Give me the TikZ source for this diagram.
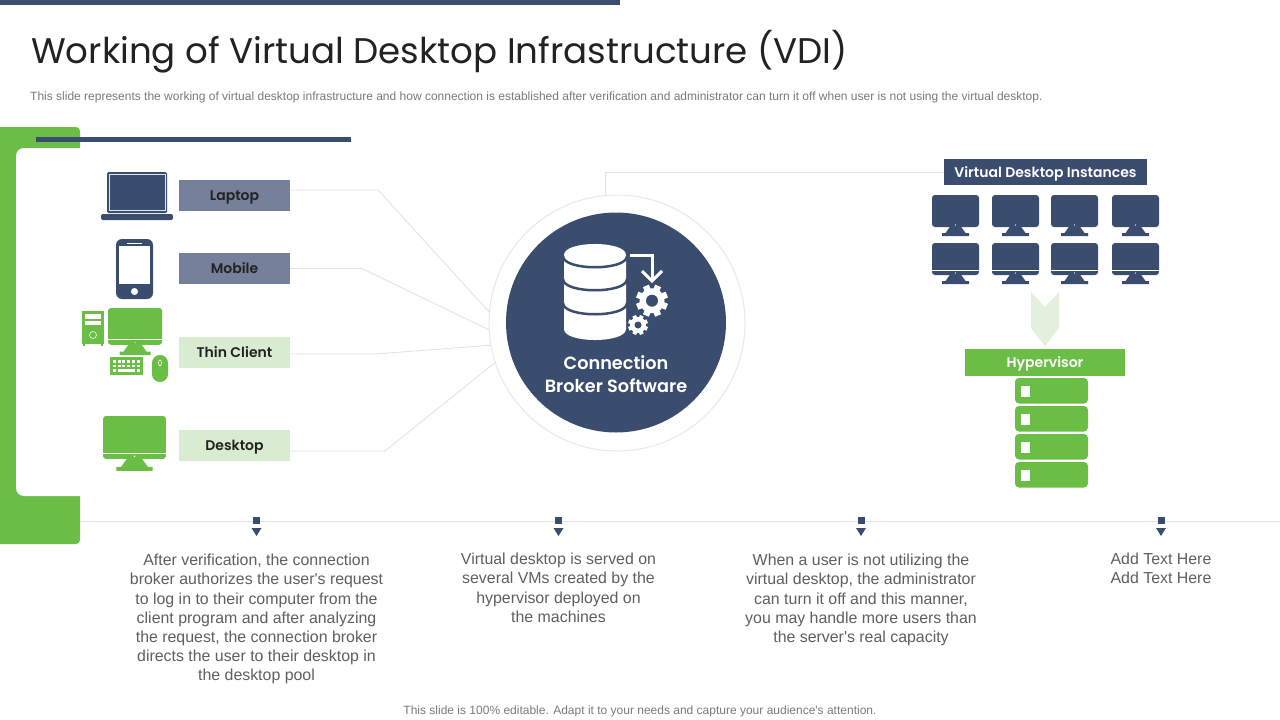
\documentclass[tikz,border=0pt]{standalone}
\usepackage{fontspec}
\setmainfont{Liberation Sans}
\newfontfamily\arial{Liberation Sans}
\newfontfamily\gothic{Poppins}
\newfontfamily\gothicb{Poppins SemiBold}
\definecolor{navy}{HTML}{3B4D6E}
\definecolor{leaf}{HTML}{6ABD45}
\definecolor{pale}{HTML}{D9EBD1}
\definecolor{slate}{HTML}{75809B}
\definecolor{wire}{HTML}{E0E1E4}
\definecolor{ink}{HTML}{222222}
\definecolor{grey}{HTML}{5F5F5F}
\definecolor{fine}{HTML}{7A7A7A}
\tikzset{
  x=1pt,y=-1pt,
  wirep/.style={draw=wire,line width=0.8pt},
  tag/.style={minimum width=111pt,minimum height=31pt,inner sep=0pt,text height=10pt,text depth=0pt,font=\gothicb\fontsize{14}{16}\selectfont,text=ink},
  para/.style={align=center,text=grey,font=\arial\fontsize{15.9}{19.15}\selectfont,inner sep=0pt,anchor=north},
  band/.style={inner sep=0pt,text height=10pt,text depth=0pt,font=\gothicb\fontsize{14}{16}\selectfont,text=white},
}
\newcommand{\mon}[5]{% x,y,scale,colour,line?
  \begin{scope}[shift={(#1,#2)},scale=#3]
    \fill[#4,rounded corners=3pt] (0,0) rectangle (47,32);
    \fill[#4] (18.5,31)--(28.5,31)--(33.5,38)--(37,38)--(37,41)--(10,41)--(10,38)--(13.5,38)--cycle;
    \fill[white] (23.5,30) circle (0.6);
    \ifnum#5=1 \fill[white] (0,27.3) rectangle (47,28.2); \fi
  \end{scope}}
\newcommand{\gear}[6]{% x,y,outer,body,hole,half tooth
  \foreach \a in {22.5,67.5,...,337.5}{
    \fill[white,rotate around={\a:(#1,#2)}] (#1-#6,#2-#3) rectangle (#1+#6,#2);
  }
  \fill[white] (#1,#2) circle (#4);
  \fill[navy] (#1,#2) circle (#5);}
\newcommand{\marker}[1]{
  \fill[navy] (#1-3.5,517) rectangle (#1+3.5,524);
  \fill[navy] (#1-5,528)--(#1+5,528)--(#1,536)--cycle;}
\newcommand{\rack}[1]{
  \fill[leaf,rounded corners=4pt] (1015,#1) rectangle (1088,#1+25.5);
  \fill[white] (1021,#1+7.5) rectangle (1030,#1+19);}
\begin{document}
\begin{tikzpicture}
\useasboundingbox (0,0) rectangle (1280,720);
\fill[white] (0,0) rectangle (1280,720);
\fill[navy] (0,0) rectangle (620,5);
\node[anchor=west,inner sep=0pt,text=ink] (title) at (31,52) {\gothic\fontsize{35.6}{40}\selectfont Working of Virtual Desktop Infrastructure (VDI)};
\node[anchor=west,inner sep=0pt,text=fine] (sub) at (30,97) {\arial\fontsize{12}{14}\selectfont This slide represents the working of virtual desktop infrastructure and how connection is established after verification and administrator can turn it off when user is not using the virtual desktop.};
% bracket
\begin{scope}
\clip (0,0) rectangle (1280,720);
\fill[leaf,rounded corners=4pt] (-10,127) rectangle (80,544);
\end{scope}
\fill[white,rounded corners=8pt] (16,148) rectangle (90,496);
\fill[navy] (36,137) rectangle (351,142);
% rule
\draw[wire,line width=1pt] (80,521) -- (1280,521);
% ring & disc
\node[circle,draw=wire!75,line width=1pt,fill=white,minimum size=256pt,inner sep=0pt] (ring) at (617,323) {};
\node[circle,fill=navy,minimum size=220pt,inner sep=0pt] (disc) at (616,322.5) {};
% labels
\node[tag,fill=slate] (laptop) at (234.5,195) {Laptop};
\node[tag,fill=slate] (mobile) at (234.5,268.5) {Mobile};
\node[tag,fill=pale] (thin) at (234.5,352.5) {Thin Client};
\node[tag,fill=pale] (desk) at (234.5,445.5) {Desktop};
\draw[wirep] (laptop.east) ++(0,-5) -- (378,190) -- (ring.175);
\draw[wirep] (mobile.east) -- (362,268.5) -- (ring.183);
\draw[wirep] (thin.east) ++(0,1.5) -- (375,354) -- (ring.190);
\draw[wirep] (desk.east) ++(0,5.5) -- (385,451) -- (ring.198);
% vdi
\node[band,fill=navy,minimum width=203pt,minimum height=26pt] (vdi) at (1045.5,172) {Virtual Desktop Instances};
\draw[wirep] (ring.95) |- (vdi.west);
\node[band,fill=leaf,minimum width=160pt,minimum height=27pt] (hyper) at (1045,362.5) {Hypervisor};
% laptop icon
\fill[navy,rounded corners=1.5pt] (107,172) rectangle (167,213);
\draw[white!85!navy,line width=0.5pt] (109,174) rectangle (165,210);
\fill[navy,rounded corners=2pt] (101,214) rectangle (173,220);
% mobile icon
\fill[navy,rounded corners=6pt] (116,239) rectangle (153,299);
\fill[white] (119,246) rectangle (150,284);
\fill[white] (127,242.5) rectangle (142,243.8);
\fill[white] (134.5,291.5) circle (3.5);
% thin client
\mon{108}{308}{1.15}{leaf}{1}
\fill[leaf] (82,311) rectangle (104,344);
\fill[leaf] (83,344) rectangle (85,345.5);
\fill[leaf] (101,344) rectangle (103,345.5);
\fill[white] (85,314) rectangle (101,318.5);
\fill[white] (85,320.5) rectangle (101,325);
\draw[white,line width=0.6pt] (93,335) circle (3.5);
\fill[leaf] (110,357) rectangle (143,375);
\foreach \y in {360,364.5}{
  \foreach \i in {0,...,5}{ \fill[white] (113+4.7*\i,\y) rectangle (116+4.7*\i,\y+2.5); }}
\fill[white] (113,369) rectangle (116,371.5);
\fill[white] (118,369) rectangle (135,371.5);
\fill[white] (137,369) rectangle (140,371.5);
\fill[leaf,rounded corners=7.9pt] (152,355) rectangle (168,382);
\draw[white,line width=0.6pt] (160,363) ellipse (1.5 and 3);
% desktop
\mon{103}{416}{1.34}{leaf}{1}
% instances
\foreach \x in {932,992,1051,1112}{
  \mon{\x}{195}{1}{navy}{0}
  \mon{\x}{243}{1}{navy}{1}
}
% chevron
\fill[pale!75] (1031,292)--(1045,307)--(1059,292)--(1059,328)--(1045,346)--(1031,328)--cycle;
% racks
\rack{378}\rack{406}\rack{434}\rack{462}
% broker icon
\fill[white] (564,255) .. controls (564,240.3) and (626,240.3) .. (626,255) -- (626,329) .. controls (626,343.7) and (564,343.7) .. (564,329) -- cycle;
\foreach \c in {256,279,303}{
  \draw[navy,line width=2.5pt] (563,\c) .. controls (563,\c+15) and (627,\c+15) .. (627,\c);
}
\draw[white,line width=3pt] (630,255.7) -- (652,255.7) -- (652,280);
\draw[white,line width=3pt] (642,271) -- (652,281) -- (662,271);
\gear{652}{300.7}{16}{12.5}{6}{3.2}
\gear{638}{325}{10}{8}{3.5}{2}
\node[inner sep=0pt,text=white,align=center,font=\gothicb\fontsize{17.7}{23}\selectfont] (brk) at (616,374) {Connection\\Broker Software};
% text
\marker{256.5}\marker{558.5}\marker{861}\marker{1161}
\node[para] (t1) at (256.5,554) {After verification, the connection\\broker authorizes the user's request\\to log in to their computer from the\\client program and after analyzing\\the request, the connection broker\\directs the user to their desktop in\\the desktop pool};
\node[para] (t2) at (558.5,553) {Virtual desktop is served on\\several VMs created by the\\hypervisor deployed on\\the machines};
\node[para] (t3) at (861,554) {When a user is not utilizing the\\virtual desktop, the administrator\\can turn it off and this manner,\\you may handle more users than\\the server's real capacity};
\node[para] (t4) at (1161,553) {Add Text Here\\Add Text Here};
\node[inner sep=0pt,text=fine] (foot) at (640,711.5) {\arial\fontsize{12}{14}\selectfont This slide is 100\% editable. Adapt it to your needs and capture your audience's attention.};
\end{tikzpicture}
\end{document}
